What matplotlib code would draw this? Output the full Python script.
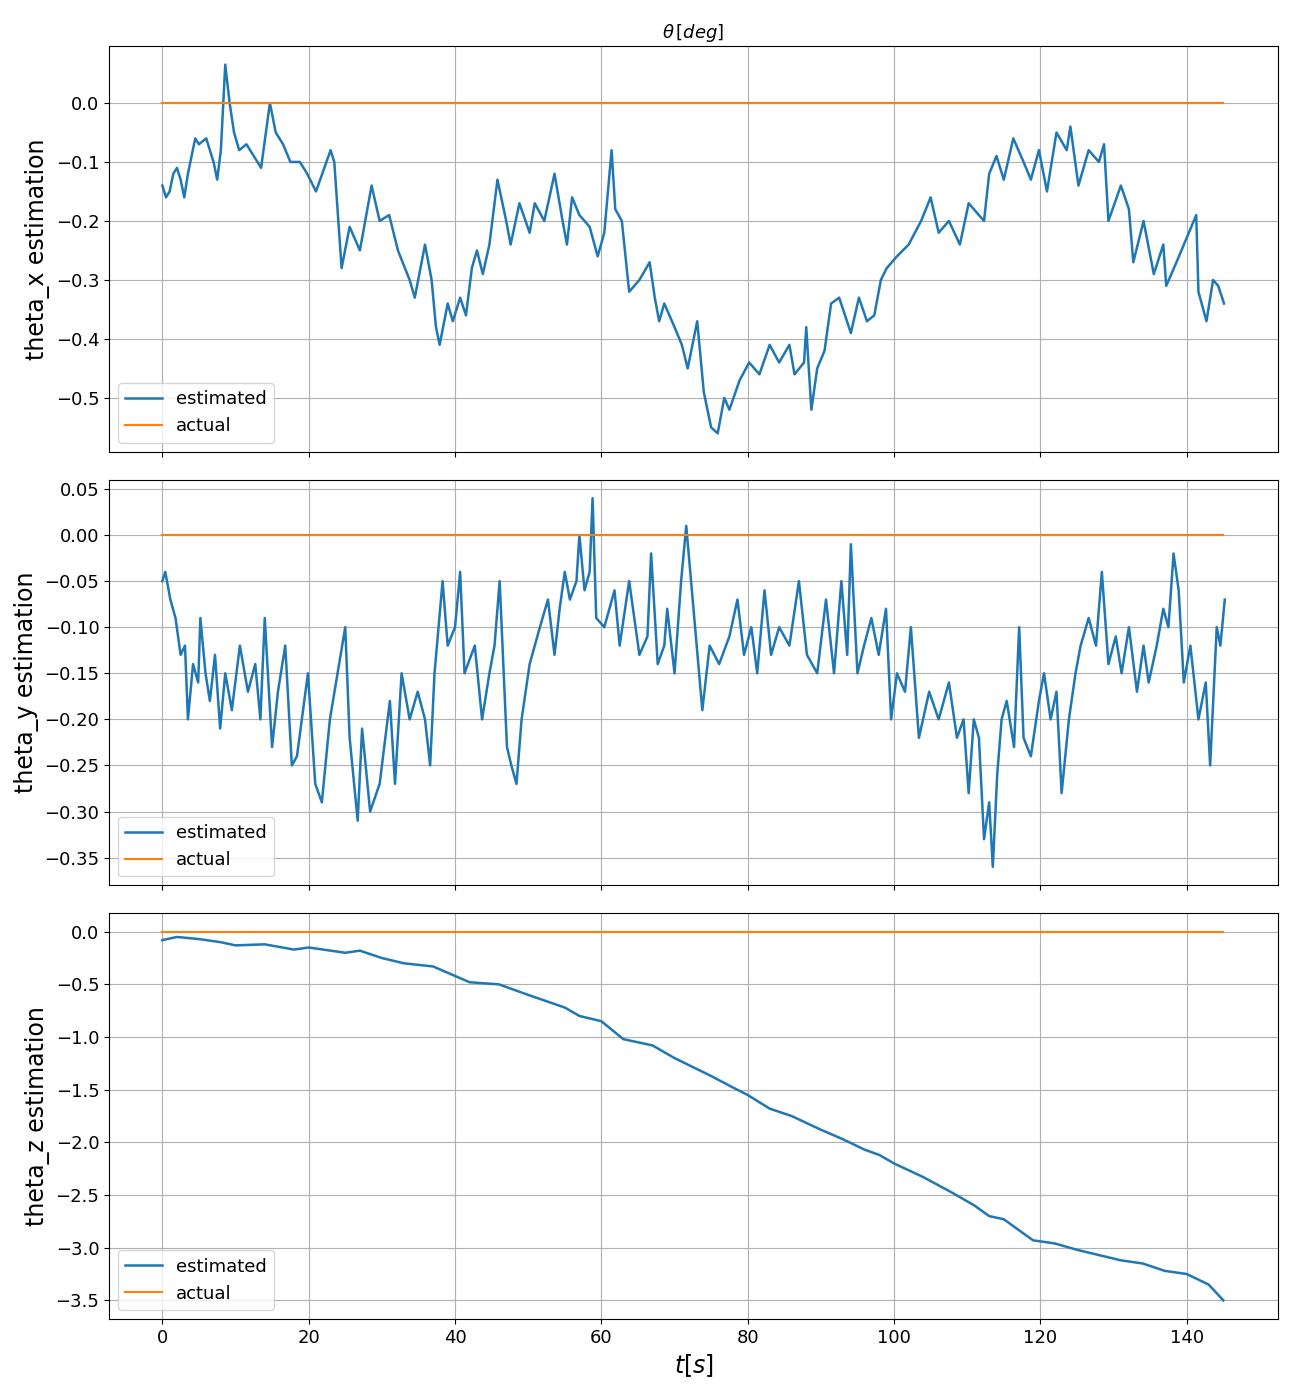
import matplotlib
matplotlib.use("Agg")
import matplotlib.pyplot as plt

# theta_x estimate (deg)
tx = [0, 0.5, 1, 1.5, 2, 2.5, 3, 3.5, 4, 4.5, 5, 6, 7, 7.5, 8, 8.6, 9.2, 9.8, 10.5, 11.5, 12.5, 13.5, 14.7,
      15.5, 16.5, 17.5, 18.8, 19.8, 21, 23, 23.5, 24.5, 25.6, 27, 28.6, 29.7, 31, 32.2, 33.8, 34.5, 35.9,
      36.8, 37.4, 37.9, 39, 39.7, 40.7, 41.5, 42.3, 43, 43.8, 44.7, 45.8, 47, 47.6, 48.8, 50.2, 50.9, 52.2,
      53.6, 54.7, 55.3, 56, 57, 58.4, 59.5, 60.4, 61.4, 61.9, 62.8, 63.8, 65.2, 66.6, 67.3, 67.9, 68.6, 70,
      71, 71.8, 73.1, 74, 75, 75.9, 76.8, 77.5, 78.9, 80.2, 81.6, 83, 84.3, 85.7, 86.4, 87.7, 88, 88.7, 89.5,
      90.5, 91.4, 92.5, 94.1, 95.2, 96.3, 97.3, 98.2, 99, 100.4, 102, 103.7, 105, 106.1, 107.5, 109, 110.2,
      112.3, 113, 114, 115, 116.3, 117.7, 118.7, 119.8, 120.9, 122.2, 123.6, 124.1, 125.2, 126.6, 128, 128.7,
      129.3, 131, 132.1, 132.7, 134.1, 135.5, 136.8, 137.2, 138.6, 141.3, 141.6, 142.7, 143.6, 144.3, 145.1]
theta_x = [-0.14, -0.16, -0.15, -0.12, -0.11, -0.13, -0.16, -0.12, -0.09, -0.06, -0.07, -0.06, -0.1, -0.13,
           -0.08, 0.065, 0.0, -0.05, -0.08, -0.07, -0.09, -0.11, 0.0, -0.05, -0.07, -0.1, -0.1, -0.12, -0.15,
           -0.08, -0.1, -0.28, -0.21, -0.25, -0.14, -0.2, -0.19, -0.25, -0.3, -0.33, -0.24, -0.3, -0.38, -0.41,
           -0.34, -0.37, -0.33, -0.36, -0.28, -0.25, -0.29, -0.24, -0.13, -0.2, -0.24, -0.17, -0.22, -0.17,
           -0.2, -0.12, -0.2, -0.24, -0.16, -0.19, -0.21, -0.26, -0.22, -0.08, -0.18, -0.2, -0.32, -0.3, -0.27,
           -0.33, -0.37, -0.34, -0.38, -0.41, -0.45, -0.37, -0.49, -0.55, -0.56, -0.5, -0.52, -0.47, -0.44,
           -0.46, -0.41, -0.44, -0.41, -0.46, -0.44, -0.38, -0.52, -0.45, -0.42, -0.34, -0.33, -0.39, -0.33,
           -0.37, -0.36, -0.3, -0.28, -0.26, -0.24, -0.2, -0.16, -0.22, -0.2, -0.24, -0.17, -0.2, -0.12, -0.09,
           -0.13, -0.06, -0.1, -0.13, -0.08, -0.15, -0.05, -0.08, -0.04, -0.14, -0.08, -0.1, -0.07, -0.2,
           -0.14, -0.18, -0.27, -0.2, -0.29, -0.24, -0.31, -0.27, -0.19, -0.32, -0.37, -0.3, -0.31, -0.34]

# theta_y estimate (deg)
ty = [0, 0.4, 1.1, 1.8, 2.5, 3.1, 3.5, 4.2, 4.9, 5.2, 5.9, 6.5, 7.2, 7.9, 8.6, 9.5, 10.6, 11.7, 12.7, 13.4,
      14.0, 15.0, 15.8, 16.8, 17.7, 18.4, 19.9, 20.9, 21.8, 22.9, 25.0, 25.6, 26.7, 27.3, 28.4, 29.7, 31.1,
      31.8, 32.7, 33.8, 34.9, 35.9, 36.6, 37.2, 38.3, 39.0, 40.0, 40.7, 41.3, 42.7, 43.7, 44.7, 45.4, 46.1,
      47.1, 47.7, 48.4, 49.1, 50.2, 51.6, 52.7, 53.6, 54.3, 55.0, 55.7, 56.6, 57.0, 57.7, 58.4, 58.8, 59.3,
      60.4, 61.8, 62.5, 63.8, 65.2, 66.3, 66.8, 67.7, 68.6, 69.0, 70.0, 70.9, 71.6, 72.7, 73.8, 74.8, 76.1,
      77.5, 78.6, 79.5, 80.5, 81.3, 82.3, 83.2, 84.3, 85.7, 87.0, 88.1, 89.5, 90.7, 91.8, 92.8, 93.6, 94.1,
      95.0, 95.9, 96.9, 97.9, 98.9, 99.6, 100.4, 101.5, 102.3, 103.4, 104.8, 106.1, 107.5, 108.6, 109.5,
      110.2, 110.9, 111.6, 112.3, 113.0, 113.5, 114.1, 114.7, 115.4, 116.4, 117.1, 117.7, 118.7, 119.8,
      120.5, 121.4, 122.2, 122.9, 123.9, 124.8, 125.5, 126.6, 127.6, 128.4, 129.3, 130.3, 131.1, 132.1,
      133.2, 134.1, 134.8, 135.9, 136.8, 137.5, 138.2, 138.9, 139.6, 140.5, 141.6, 142.6, 143.2, 144.1,
      144.6, 145.2]
theta_y = [-0.05, -0.04, -0.07, -0.09, -0.13, -0.12, -0.2, -0.14, -0.16, -0.09, -0.15, -0.18, -0.13, -0.21,
           -0.15, -0.19, -0.12, -0.17, -0.14, -0.2, -0.09, -0.23, -0.17, -0.12, -0.25, -0.24, -0.15, -0.27,
           -0.29, -0.2, -0.1, -0.22, -0.31, -0.21, -0.3, -0.27, -0.18, -0.27, -0.15, -0.2, -0.17, -0.2, -0.25,
           -0.15, -0.05, -0.12, -0.1, -0.04, -0.15, -0.12, -0.2, -0.15, -0.12, -0.05, -0.23, -0.25, -0.27,
           -0.2, -0.14, -0.1, -0.07, -0.13, -0.08, -0.04, -0.07, -0.05, 0.0, -0.06, -0.04, 0.04, -0.09, -0.1,
           -0.06, -0.12, -0.05, -0.13, -0.11, -0.02, -0.14, -0.12, -0.08, -0.15, -0.05, 0.01, -0.09, -0.19,
           -0.12, -0.14, -0.11, -0.07, -0.13, -0.1, -0.15, -0.06, -0.13, -0.1, -0.12, -0.05, -0.13, -0.15,
           -0.07, -0.15, -0.05, -0.13, -0.01, -0.15, -0.12, -0.09, -0.13, -0.08, -0.2, -0.15, -0.17, -0.1,
           -0.22, -0.17, -0.2, -0.16, -0.22, -0.2, -0.28, -0.2, -0.22, -0.33, -0.29, -0.36, -0.26, -0.2, -0.18,
           -0.23, -0.1, -0.22, -0.24, -0.18, -0.15, -0.2, -0.17, -0.28, -0.2, -0.15, -0.12, -0.09, -0.12, -0.04,
           -0.14, -0.11, -0.15, -0.1, -0.17, -0.12, -0.16, -0.12, -0.08, -0.1, -0.02, -0.06, -0.16, -0.12,
           -0.2, -0.16, -0.25, -0.1, -0.12, -0.07]

# theta_z estimate (deg)
tz = [0, 2, 5, 8, 10, 14, 18, 20, 25, 27, 30, 33, 37, 40, 42, 46, 50, 55, 57, 60, 63, 67, 70, 75, 78, 80,
      83, 86, 90, 93, 96, 98, 100, 104, 108, 111, 113, 115, 117, 119, 122, 125, 128, 131, 134, 137, 140,
      143, 145]
theta_z = [-0.08, -0.05, -0.07, -0.1, -0.13, -0.12, -0.17, -0.15, -0.2, -0.18, -0.25, -0.3, -0.33, -0.42,
           -0.48, -0.5, -0.6, -0.72, -0.8, -0.85, -1.02, -1.08, -1.2, -1.37, -1.48, -1.55, -1.68, -1.75,
           -1.88, -1.97, -2.07, -2.12, -2.2, -2.33, -2.48, -2.6, -2.7, -2.73, -2.83, -2.93, -2.96, -3.02,
           -3.07, -3.12, -3.15, -3.22, -3.25, -3.35, -3.5]

t_actual = [0, 145]
actual = [0, 0]

fig, axes = plt.subplots(3, 1, figsize=(13, 14), sharex=True)
series = [(tx, theta_x, "theta_x estimation"),
          (ty, theta_y, "theta_y estimation"),
          (tz, theta_z, "theta_z estimation")]
for ax, (t, v, lab) in zip(axes, series):
    ax.plot(t, v, label="estimated", lw=1.8)
    ax.plot(t_actual, actual, label="actual", lw=1.5)
    ax.set_ylabel(lab, fontsize=17)
    ax.grid(True)
    ax.tick_params(labelsize=13)
    ax.legend(loc="lower left", fontsize=13)

axes[0].set_title(r"$\theta\,[deg]$", fontsize=13)
axes[2].set_xlabel(r"$t[s]$", fontsize=17)
plt.subplots_adjust(left=0.084, right=0.983, top=0.967, bottom=0.058, hspace=0.069)
plt.savefig("out.png", dpi=100)
